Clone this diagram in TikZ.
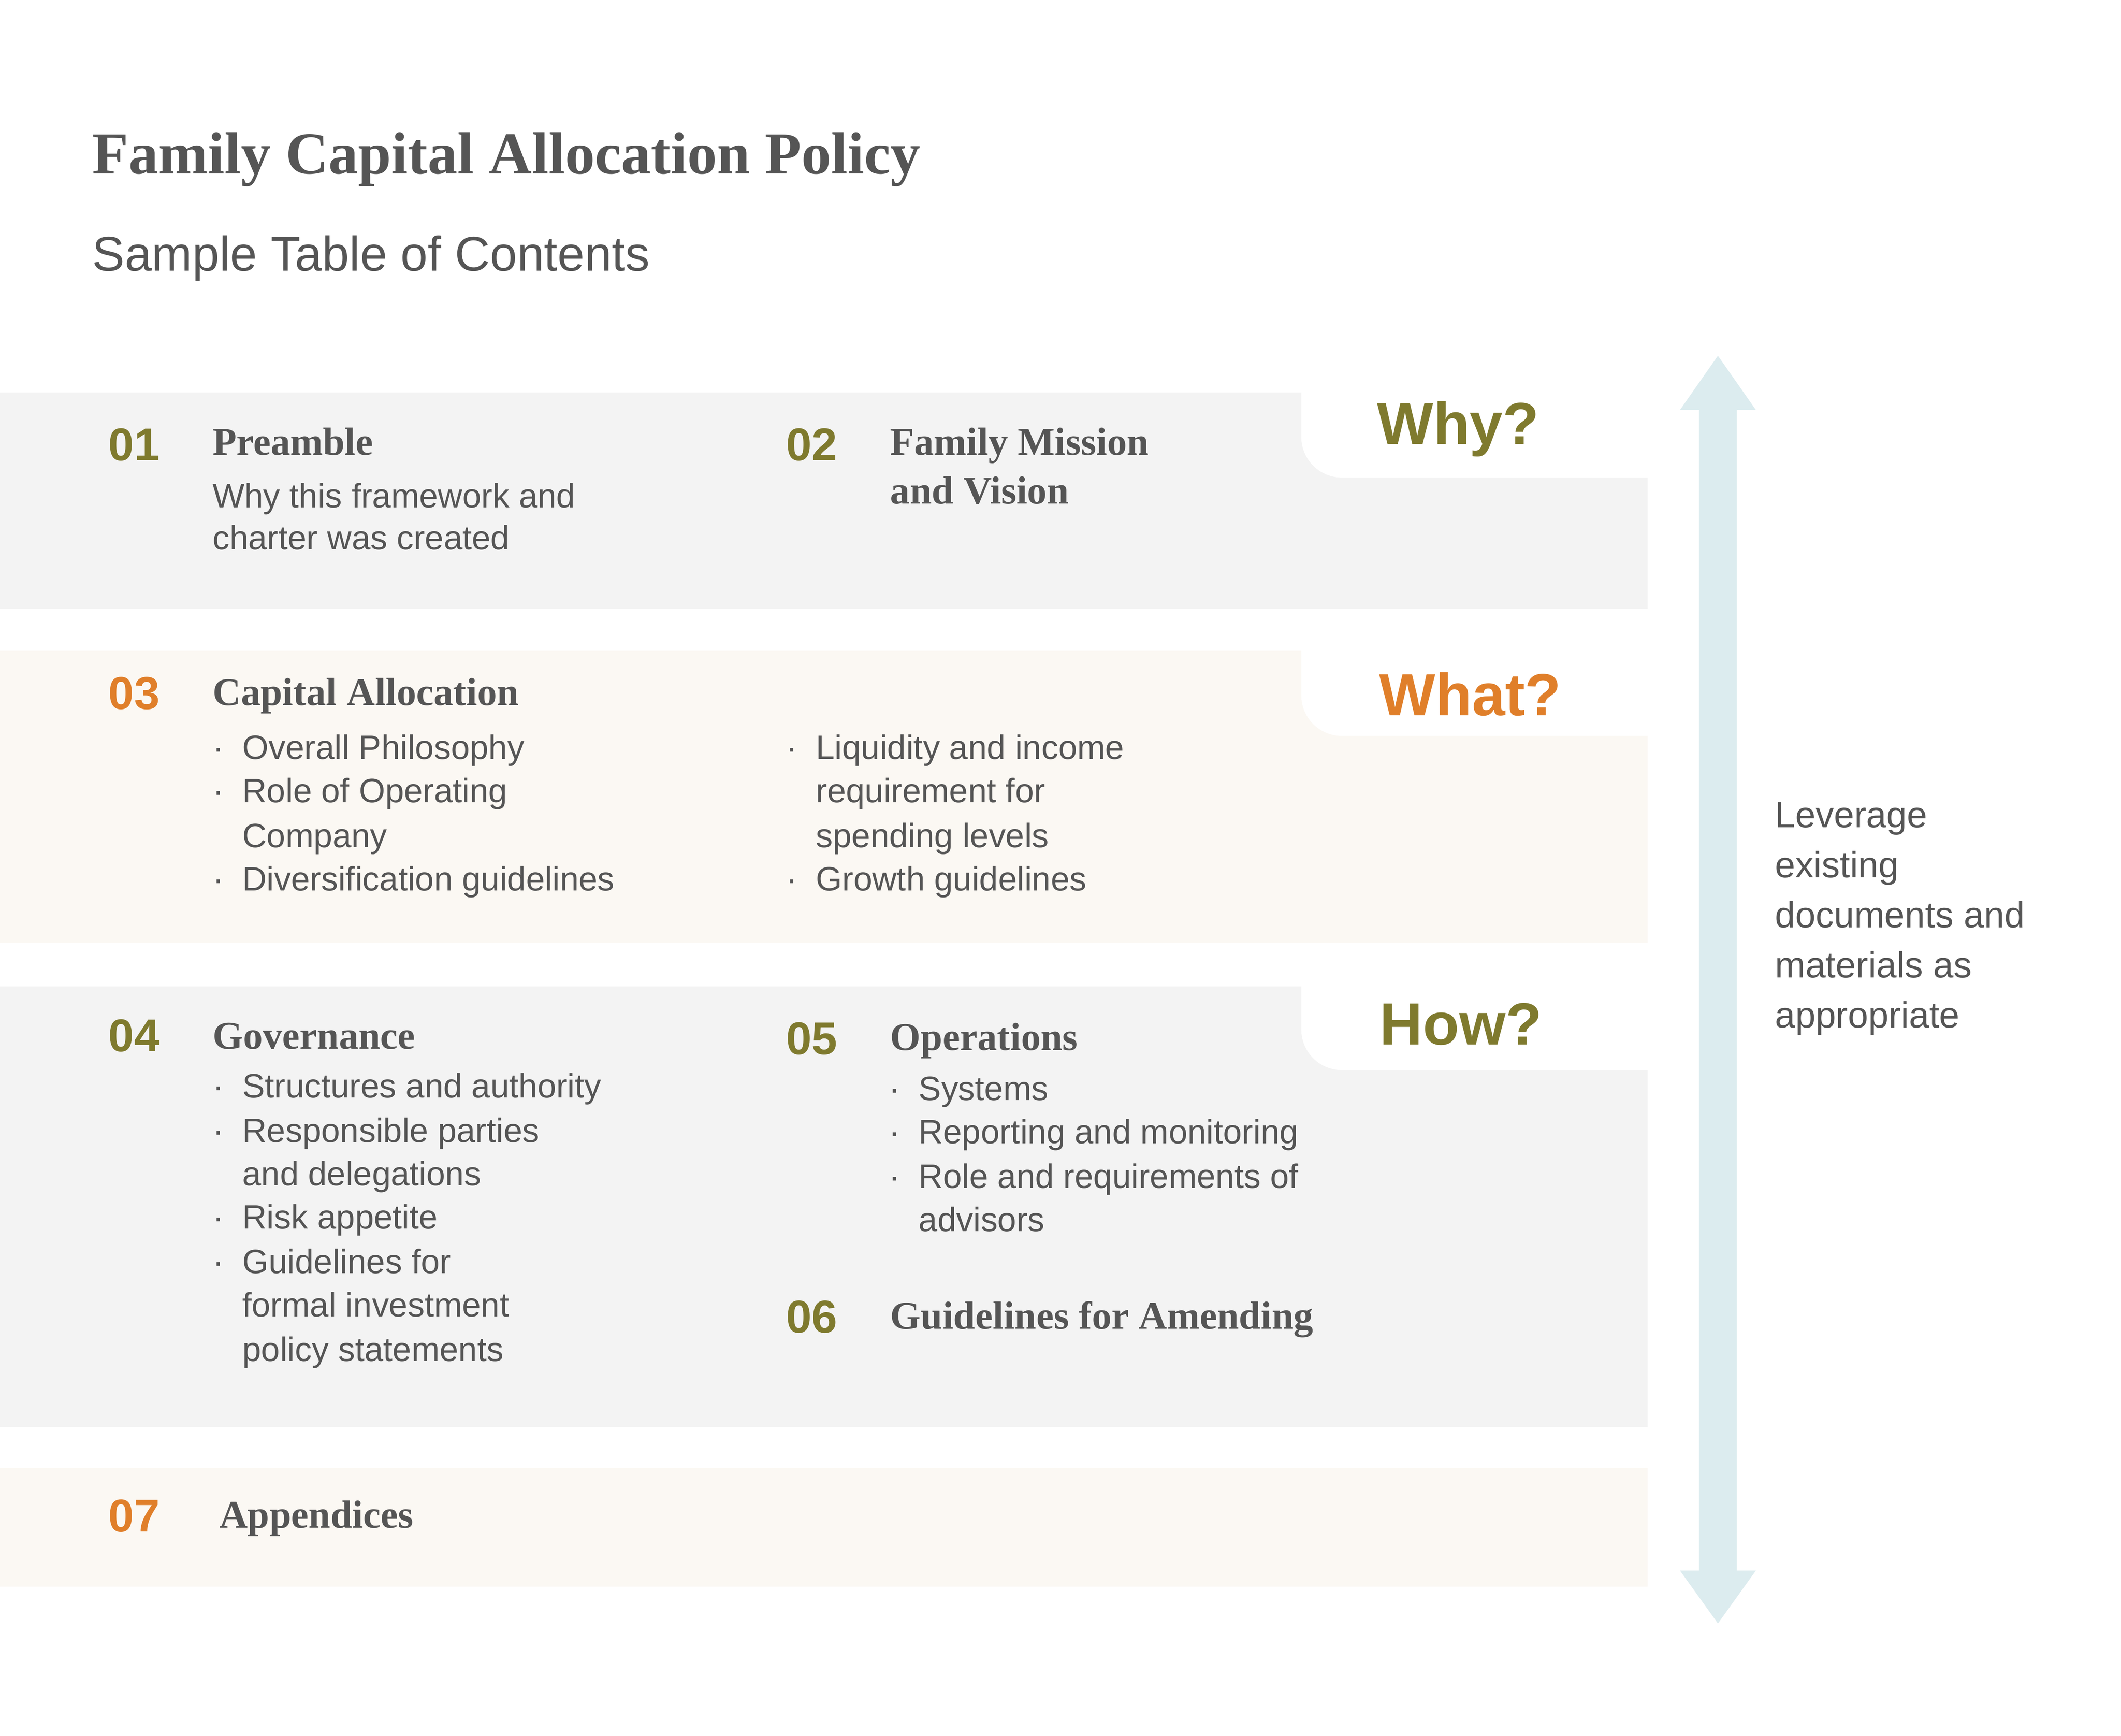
\documentclass[tikz,border=0pt]{standalone}
\usepackage{fontspec}
\setmainfont{Liberation Serif}
\setsansfont{Liberation Sans}
\definecolor{bandgray}{HTML}{F3F3F3}
\definecolor{bandcream}{HTML}{FBF8F3}
\definecolor{olive}{HTML}{7F7A2E}
\definecolor{orangec}{HTML}{E07F2A}
\definecolor{txt}{HTML}{555555}
\definecolor{arrowc}{HTML}{DCECEF}
\begin{document}
\begin{tikzpicture}[x=1pt,y=-1pt,
  every node/.style={inner sep=0pt,anchor=mid west,text=txt},
  num/.style={font=\sffamily\bfseries\fontsize{34}{34}\selectfont},
  head/.style={font=\rmfamily\bfseries\fontsize{29}{29}\selectfont},
  body/.style={font=\sffamily\fontsize{25}{25}\selectfont},
  q/.style={anchor=center,font=\sffamily\bfseries\fontsize{44}{44}\selectfont}]
\useasboundingbox (0,0) rectangle (1568,1283);
\fill[white] (0,0) rectangle (1568,1283);
% bands
\fill[bandgray] (0,290) rectangle (1218,450);
\fill[bandcream] (0,481) rectangle (1218,697);
\fill[bandgray] (0,729) rectangle (1218,1055);
\fill[bandcream] (0,1085) rectangle (1218,1173);
\foreach \t/\b in {289/353,480/544,728/791}{
  \fill[white] (962,\t) [rounded corners=30]-- (962,\b) [sharp corners]-- (1219,\b) -- (1219,\t) -- cycle;}
% arrow
\fill[arrowc] (1270,263) -- (1298,303) -- (1284,303) -- (1284,1161) -- (1298,1161) -- (1270,1200) -- (1242,1161) -- (1256,1161) -- (1256,303) -- (1242,303) -- cycle;
% titles
\node[font=\rmfamily\bfseries\fontsize{44}{44}\selectfont] (title) at (68,126) {Family Capital Allocation Policy};
\node[font=\sffamily\fontsize{36}{36}\selectfont] (sub) at (68,198) {Sample Table of Contents};
% questions
\node[q,text=olive] (why) at (1078,317) {Why?};
\node[q,text=orangec] (what) at (1087,513) {What?};
\node[q,text=olive] (how) at (1080,757) {How?};
% side text
\node[body,font=\sffamily\fontsize{27}{37}\selectfont,anchor=north west,align=left] (lev) at (1312,593)
 {Leverage\\existing\\documents and\\materials as\\appropriate};
% 01
\node[num,text=olive] (n1) at (80,338) {01};
\node[head] (h1) at (157,334) {Preamble};
\node[body] at (157,373) {Why this framework and};
\node[body] at (157,404) {charter was created};
\node[num,text=olive] (n2) at (581,338) {02};
\node[head] (h2) at (658,334) {Family Mission};
\node[head] at (658,370) {and Vision};
% 03
\node[num,text=orangec] (n3) at (80,522) {03};
\node[head] (h3) at (157,519) {Capital Allocation};
\foreach \y/\d/\s in {559/1/Overall Philosophy,591/1/Role of Operating,624/0/Company,656/1/Diversification guidelines}{
  \ifnum\d=1 \node[body] at (157,\y) {·};\fi
  \node[body] at (179,\y) {\s};}
\foreach \y/\d/\s in {559/1/Liquidity and income,591/0/requirement for,624/0/spending levels,656/1/Growth guidelines}{
  \ifnum\d=1 \node[body] at (581,\y) {·};\fi
  \node[body] at (603,\y) {\s};}
% 04
\node[num,text=olive] (n4) at (80,775) {04};
\node[head] (h4) at (157,773) {Governance};
\foreach \y/\d/\s in {809/1/Structures and authority,842/1/Responsible parties,874/0/and delegations,906/1/Risk appetite,939/1/Guidelines for,971/0/formal investment,1004/0/policy statements}{
  \ifnum\d=1 \node[body] at (157,\y) {·};\fi
  \node[body] at (179,\y) {\s};}
% 05
\node[num,text=olive] (n5) at (581,777) {05};
\node[head] (h5) at (658,774) {Operations};
\foreach \y/\d/\s in {811/1/Systems,843/1/Reporting and monitoring,876/1/Role and requirements of,908/0/advisors}{
  \ifnum\d=1 \node[body] at (657,\y) {·};\fi
  \node[body] at (679,\y) {\s};}
% 06
\node[num,text=olive] (n6) at (581,983) {06};
\node[head] (h6) at (658,980) {Guidelines for Amending};
% 07
\node[num,text=orangec] (n7) at (80,1130) {07};
\node[head] (h7) at (162,1127) {Appendices};
\end{tikzpicture}
\end{document}
